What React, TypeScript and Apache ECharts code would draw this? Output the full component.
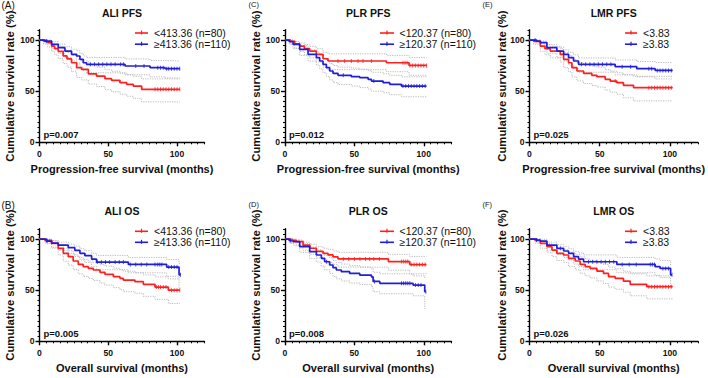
import React, { useEffect, useRef } from "react";
import * as echarts from "echarts";

const RED = "#ff1f1f";
const BLUE = "#1f1fd9";
const CI_GRAY = "#b2b2b2";
const FONT = "'Liberation Sans', Arial, Helvetica, sans-serif";

// Kaplan-Meier steps: [month, survival %, lower 95% CI, upper 95% CI]
const aliPfsLow = [
  [0, 100, 100, 100], [3, 98.8, 96, 100], [6, 97.5, 93, 99.5], [8.8, 94, 89, 97],
  [11, 91.5, 85.5, 95.5], [13.6, 89, 82, 94], [17.2, 84.5, 77, 90], [20, 81.5, 73.5, 87.5],
  [23.3, 77.8, 69, 85], [27, 73, 63.5, 81], [30.6, 71.3, 61, 79.5], [35.5, 67, 57, 75.5],
  [41.5, 64.8, 54.5, 73.5], [47.6, 62.2, 51.5, 71], [52.4, 60.6, 49.5, 69.5],
  [58.5, 58.3, 47, 67.5], [63.4, 56.7, 45, 66], [68.2, 55, 43, 64.5],
  [74.3, 51.8, 39.5, 62], [102, 51.8, 39.5, 62],
];
const aliPfsLowCens = [84, 86, 88, 90, 92, 94, 96, 98, 100, 102];
const aliPfsHigh = [
  [0, 100, 100, 100], [4, 99, 97, 100], [8.8, 95.8, 91.5, 98.5], [13.6, 92.5, 87, 96],
  [18.5, 89.2, 83, 93.5], [23.3, 86, 79.5, 91], [27, 84.4, 77.5, 89.5], [29.4, 81.1, 73.5, 87],
  [31.8, 77.8, 70, 84.5], [34.2, 76.2, 68, 83], [62.2, 74.6, 66, 81.5], [80.4, 73, 64, 80],
  [91.3, 72, 63, 79.5], [102, 72, 63, 79.5],
];
const aliPfsHighCens = [5, 37, 40, 43, 46, 49, 52, 55, 59, 61, 70, 76, 86, 88, 90, 92.5, 94, 96, 98, 100, 102];

const plrPfsLow = [
  [0, 100, 100, 100], [4, 98.8, 96, 100], [7, 96.3, 92, 98.5], [10.6, 94.1, 89, 97],
  [14, 91.5, 85.5, 95.5], [17.8, 89.2, 82.5, 93.8], [22.6, 86, 78.5, 91.5],
  [27.4, 81.7, 73.5, 88], [31, 79.5, 71, 86.5], [73.1, 77.8, 69, 85], [89.4, 75.2, 65.5, 83],
  [102, 75.2, 65.5, 83],
];
const plrPfsLowCens = [38.2, 43, 47.8, 52.6, 56.2, 62.3, 85, 86.5, 88, 90, 92, 94, 96, 98, 100, 102];
const plrPfsHigh = [
  [0, 100, 100, 100], [3, 98.5, 96, 100], [5.8, 95.8, 91.5, 98.5], [10.6, 90.9, 85, 94.5],
  [16.6, 86, 79.5, 90.5], [22.6, 82.7, 75.5, 88], [25, 79.5, 72, 85.5], [27.4, 76.2, 68, 82.5],
  [29.8, 73, 64.5, 80], [32.2, 69.7, 61, 77], [34.6, 67.4, 58.5, 75], [38.2, 65.5, 56.5, 73.5],
  [47.8, 64.2, 55, 72.5], [53.9, 63.2, 53.5, 71.5], [59.9, 61.6, 52, 70], [62.3, 59.9, 50, 68.5],
  [70.7, 58.3, 48.5, 67], [75.5, 56.7, 46.5, 65.5], [83.9, 55, 44.5, 64], [102, 55, 44.5, 64],
];
const plrPfsHighCens = [42, 64, 85, 87, 89, 91, 93, 95, 97, 99, 101];

const lmrPfsLow = [
  [0, 100, 100, 100], [3, 98.7, 96, 100], [7.7, 94.1, 89, 97], [11, 91.5, 85.5, 95.5],
  [14.8, 89.2, 82.5, 93.8], [21.9, 86, 78.5, 91.5], [24.3, 81.1, 73, 87.5], [27.8, 77.8, 69, 85],
  [30.2, 73, 64, 81], [33.8, 69.7, 60, 78], [38.5, 67.4, 57.5, 76], [44.4, 65.5, 55.5, 74.5],
  [48, 64.2, 54, 73.5], [53.9, 61.6, 51, 71], [57.5, 59.9, 49, 69.5], [62.2, 58.3, 47, 68],
  [66.9, 55.7, 43.5, 66], [74.1, 53.4, 40.5, 64.5], [102, 53.4, 40.5, 64.5],
];
const lmrPfsLowCens = [61, 85, 87, 89, 91, 93, 95, 97, 99, 101];
const lmrPfsHigh = [
  [0, 100, 100, 100], [5, 99, 97, 100], [7.7, 97.4, 94, 99], [12.4, 92.5, 87, 95.5],
  [19.5, 89.2, 83, 93], [24.3, 86, 79.5, 90.5], [27.8, 82.7, 75.5, 88], [31.4, 79.5, 72, 85.5],
  [34.9, 76.2, 68.5, 82.5], [61, 73.9, 66, 80.5], [76.4, 72, 64, 79], [89.5, 70.3, 62, 78],
  [102, 70.3, 62, 78],
];
const lmrPfsHighCens = [4, 37, 40, 43, 46, 49, 52, 55, 58, 66, 72, 85, 87, 91, 93, 95, 97, 99, 101];

const aliOsLow = [
  [0, 100, 100, 100], [4, 98.7, 96, 100], [8.8, 95.8, 91, 98], [13.6, 90.9, 84.5, 94.5],
  [17.3, 86, 78.5, 91], [20.9, 82.7, 74.5, 88.5], [24.5, 78.5, 70, 84.5], [28.2, 75.2, 66, 82],
  [31.8, 73, 63.5, 80], [35.5, 71.3, 61.5, 78.5], [39.1, 69.7, 59.5, 77], [44, 67.4, 57, 75],
  [47.6, 65.5, 55, 73.5], [53.7, 63.2, 52.5, 71.5], [58.5, 61.6, 50.5, 70], [61, 59.9, 48.5, 68.5],
  [69.4, 58.3, 47, 67], [75.5, 55.7, 44, 65], [84, 53, 41, 63], [93.7, 50, 37, 61],
  [102, 50, 37, 61],
];
const aliOsLowCens = [85, 86.5, 88, 90, 92, 96, 98, 100, 102];
const aliOsHigh = [
  [0, 100, 100, 100], [5, 98, 95.5, 99.5], [8.8, 96, 92, 98.5], [13.6, 94, 89, 97],
  [20.9, 91.5, 86, 95], [25.7, 89, 83, 93], [29.4, 86, 79.5, 90.5], [33, 83.7, 77, 88.5],
  [37.9, 80.4, 73, 86], [41.5, 77.5, 70, 84], [64.6, 75.2, 67, 82], [92.5, 72.6, 63.5, 80],
  [101.5, 65, 52, 76], [102.5, 65, 52, 76],
];
const aliOsHighCens = [5.5, 42, 45, 48, 51, 55, 58, 61, 66, 70, 74, 78, 84, 86, 87.5, 89, 94, 96, 98, 100, 102.5];

const plrOsLow = [
  [0, 100, 100, 100], [4, 98.8, 96, 100], [8, 97.5, 93.5, 99], [13, 94, 89, 97],
  [18, 91, 85, 95], [22.6, 88, 81.5, 92.5], [27.4, 86, 79, 91], [31, 84.5, 77, 90],
  [34.6, 82.5, 75, 88.5], [38.2, 80.5, 72.5, 87], [74.5, 78, 69.5, 85], [89.9, 75, 66, 83],
  [102, 75, 66, 83],
];
const plrOsLowCens = [5, 42, 46, 50, 54, 58, 61, 64, 68, 84, 85.5, 87, 88.5, 91, 93, 95, 97, 99, 101];
const plrOsHigh = [
  [0, 100, 100, 100], [3, 98.5, 96, 100], [5.8, 97.4, 94, 99], [10.6, 92.5, 87, 95.5],
  [17.8, 87.6, 81, 92], [22.6, 84.4, 77.5, 89.5], [26.2, 81.1, 73.5, 87], [28.6, 77.8, 70, 84],
  [32.2, 74.6, 66.5, 81.5], [34.6, 72, 63.5, 79], [37, 69.7, 61, 77], [40.6, 68.1, 59, 75.5],
  [46.6, 66.4, 57, 74], [53.9, 64.8, 55.5, 72.5], [62.3, 63, 53.5, 71], [63.5, 58.5, 48.5, 67.5],
  [68.3, 56.7, 46.5, 66], [92.3, 55, 44.5, 64], [100.7, 48.5, 32, 62], [101.5, 48.5, 32, 62],
];
const plrOsHighCens = [4, 30, 64.5, 84, 85.5, 87, 88.5, 90, 94, 96, 98, 101.5];

const lmrOsLow = [
  [0, 100, 100, 100], [4, 98.7, 96, 100], [7.7, 95.8, 91, 98], [12.4, 92.5, 87, 95.5],
  [16, 89.2, 83, 93], [19.5, 86, 79, 90.5], [24.3, 84.4, 77, 89.5], [27.8, 81.1, 73, 87],
  [32.6, 78.5, 70, 85], [36.1, 75.2, 66.5, 82.5], [39.7, 73, 64, 80.5], [43.2, 71.3, 62, 79],
  [48, 68.7, 59, 77], [52.7, 66.4, 56.5, 75], [56.3, 63.2, 53, 72.5], [61, 61.6, 51, 71],
  [66.9, 58.9, 48, 68.5], [71.7, 55.7, 44.5, 66], [83.5, 53.4, 41.5, 64], [102, 53.4, 41.5, 64],
];
const lmrOsLowCens = [85, 87, 89, 91, 93, 95, 97, 99, 101];
const lmrOsHigh = [
  [0, 100, 100, 100], [5, 99, 97, 100], [7.7, 98, 95.5, 99.5], [12.4, 94.1, 89, 97],
  [19.5, 90.9, 85, 94.5], [24.3, 88.3, 82, 92.5], [27.8, 86, 79.5, 90.5], [31.4, 82.7, 75.5, 88],
  [34.9, 80.4, 73, 86.5], [38.5, 77.8, 70, 84.5], [62.2, 75.2, 67, 82], [89.5, 73, 64.5, 80.5],
  [93, 71.3, 62.5, 79], [100.5, 65, 54, 74.5], [101.5, 65, 54, 74.5],
];
const lmrOsHighCens = [5, 22, 42, 45, 48, 51, 54, 57, 60, 66, 71, 76, 86, 87.5, 89, 95, 97, 99, 101.5];

// Panel order: top row A, C, E; bottom row B, D, F
const panelTags = ["(A)", "(C)", "(E)", "(B)", "(D)", "(F)"];
const panelTitles = ["ALI PFS", "PLR PFS", "LMR PFS", "ALI OS", "PLR OS", "LMR OS"];
const pValues = ["p=0.007", "p=0.012", "p=0.025", "p=0.005", "p=0.008", "p=0.026"];
const xTitles = [
  "Progression-free survival (months)",
  "Progression-free survival (months)",
  "Progression-free survival (months)",
  "Overall survival (months)",
  "Overall survival (months)",
  "Overall survival (months)",
];
const yTitle = "Cumulative survival rate (%)";
const lowLabels = ["<413.36 (n=80)", "<120.37 (n=80)", "<3.83", "<413.36 (n=80)", "<120.37 (n=80)", "<3.83"];
const highLabels = ["≥413.36 (n=110)", "≥120.37 (n=110)", "≥3.83", "≥413.36 (n=110)", "≥120.37 (n=110)", "≥3.83"];
const xTicks = [0, 50, 100];
const yTicks = [0, 50, 100];

const lowCurves = [aliPfsLow, plrPfsLow, lmrPfsLow, aliOsLow, plrOsLow, lmrOsLow];
const lowCensors = [aliPfsLowCens, plrPfsLowCens, lmrPfsLowCens, aliOsLowCens, plrOsLowCens, lmrOsLowCens];
const highCurves = [aliPfsHigh, plrPfsHigh, lmrPfsHigh, aliOsHigh, plrOsHigh, lmrOsHigh];
const highCensors = [aliPfsHighCens, plrPfsHighCens, lmrPfsHighCens, aliOsHighCens, plrOsHighCens, lmrOsHighCens];

// Layout of the 3 x 2 panels (pixels)
const COL_LEFT = [39.5, 285, 529.5];
const COL_WIDTH = [165, 166.5, 168.5];
const COL_YLABEL_X = [10, 256, 502];
const COL_TAG = [
  { x: 1.5, size: 10 },
  { x: 248.5, size: 7.5 },
  { x: 482.5, size: 7.5 },
];
const COL_LEGEND = [
  { x1: 135, x2: 148, tx: 154 },
  { x1: 380, x2: 394, tx: 399.5 },
  { x1: 625, x2: 637, tx: 643 },
];
const ROW_TOP = [29.8, 228.8];
const GRID_H = 112.5;

function survAt(curve: number[][], t: number): number {
  let v = curve[0][1];
  for (const p of curve) {
    if (p[0] <= t) v = p[1];
    else break;
  }
  return v;
}

function buildOption() {
  const grid: any[] = [];
  const xAxis: any[] = [];
  const yAxis: any[] = [];
  const series: any[] = [];
  const graphic: any[] = [];

  const tickLabel = {
    color: "#111",
    fontWeight: "bold",
    fontSize: 8.6,
    fontFamily: FONT,
  };

  for (let i = 0; i < 6; i++) {
    const row = i < 3 ? 0 : 1;
    const col = i % 3;
    const left = COL_LEFT[col];
    const width = COL_WIDTH[col];
    const top = ROW_TOP[row];
    const bottom = top + GRID_H;
    grid.push({ left, top, width, height: GRID_H, containLabel: false });

    // base axis: line + dense minor ticks
    xAxis.push({
      gridIndex: i, type: "value", position: "bottom", min: 0, max: 120, interval: 5,
      axisLine: { show: true, onZero: false, lineStyle: { color: "#000", width: 1.4 } },
      axisTick: { show: true, length: 2, lineStyle: { color: "#000", width: 1 } },
      axisLabel: { show: false }, splitLine: { show: false },
    });
    // overlay axis: major ticks + labels
    xAxis.push({
      gridIndex: i, type: "value", position: "bottom", min: 0, max: 120, interval: 50,
      axisLine: { show: false },
      axisTick: { show: true, length: 4, customValues: xTicks, lineStyle: { color: "#000", width: 1.4 } },
      axisLabel: { show: true, customValues: xTicks, margin: 7.5, ...tickLabel },
      splitLine: { show: false },
    });
    yAxis.push({
      gridIndex: i, type: "value", position: "left", min: 0, max: 110, interval: 5,
      axisLine: { show: true, onZero: false, lineStyle: { color: "#000", width: 1.4 } },
      axisTick: { show: true, length: 2, lineStyle: { color: "#000", width: 1 } },
      axisLabel: { show: false }, splitLine: { show: false },
    });
    yAxis.push({
      gridIndex: i, type: "value", position: "left", min: 0, max: 110, interval: 50,
      axisLine: { show: false },
      axisTick: { show: true, length: 4, customValues: yTicks, lineStyle: { color: "#000", width: 1.4 } },
      axisLabel: { show: true, customValues: yTicks, margin: 5, ...tickLabel },
      splitLine: { show: false },
    });

    const xi = i * 2;
    const groups = [
      { curve: lowCurves[i], cens: lowCensors[i], color: RED },
      { curve: highCurves[i], cens: highCensors[i], color: BLUE },
    ];

    // confidence bands (dotted)
    groups.forEach((g) => {
      [2, 3].forEach((k) => {
        series.push({
          type: "line", xAxisIndex: xi, yAxisIndex: xi, step: "end",
          data: g.curve.map((p) => [p[0], p[k]]),
          symbol: "none", silent: true, z: 2,
          lineStyle: { color: CI_GRAY, width: 0.9, type: [1.2, 1.2] },
        });
      });
    });
    // survival curves
    groups.forEach((g) => {
      series.push({
        type: "line", xAxisIndex: xi, yAxisIndex: xi, step: "end",
        data: g.curve.map((p) => [p[0], p[1]]),
        symbol: "none", silent: true, z: 4,
        lineStyle: { color: g.color, width: 1.7 },
      });
    });
    // censor ticks
    groups.forEach((g) => {
      series.push({
        type: "scatter", xAxisIndex: xi, yAxisIndex: xi,
        data: g.cens.map((t) => [t, survAt(g.curve, t)]),
        symbol: "rect", symbolSize: [1, 4], silent: true, z: 5,
        itemStyle: { color: g.color },
      });
    });

    const cx = left + width / 2;
    const tag = COL_TAG[col];
    graphic.push({
      type: "text", x: tag.x, y: row === 0 ? (col === 0 ? 5.5 : 4) : (col === 0 ? 205 : 204.5),
      style: {
        text: panelTags[i], font: `${tag.size}px ${FONT}`, fill: "#111",
        align: "left", verticalAlign: "middle", textAlign: "left", textVerticalAlign: "middle",
      },
    });
    graphic.push({
      type: "text", x: cx, y: row === 0 ? 12.7 : 211,
      style: {
        text: panelTitles[i], font: `bold 10.5px ${FONT}`, fill: "#111",
        align: "center", verticalAlign: "middle", textAlign: "center", textVerticalAlign: "middle",
      },
    });
    graphic.push({
      type: "text", x: cx, y: bottom + 27,
      style: {
        text: xTitles[i], font: `bold 11px ${FONT}`, fill: "#111",
        align: "center", verticalAlign: "middle", textAlign: "center", textVerticalAlign: "middle",
      },
    });
    graphic.push({
      type: "text", x: COL_YLABEL_X[col], y: top + GRID_H / 2, rotation: Math.PI / 2,
      style: {
        text: yTitle, font: `bold 11.3px ${FONT}`, fill: "#111",
        align: "center", verticalAlign: "middle", textAlign: "center", textVerticalAlign: "middle",
      },
    });
    graphic.push({
      type: "text", x: left + 4, y: bottom - 7.5,
      style: {
        text: pValues[i], font: `bold 9.5px ${FONT}`, fill: "#111",
        align: "left", verticalAlign: "middle", textAlign: "left", textVerticalAlign: "middle",
      },
    });

    // legend
    const lg = COL_LEGEND[col];
    const ly = [row === 0 ? 33 : 231.3, row === 0 ? 44.2 : 242.3];
    const labels = [lowLabels[i], highLabels[i]];
    [RED, BLUE].forEach((color, k) => {
      const mid = (lg.x1 + lg.x2) / 2;
      graphic.push({
        type: "line", shape: { x1: lg.x1, y1: ly[k], x2: lg.x2, y2: ly[k] },
        style: { stroke: color, lineWidth: 1.6 },
      });
      graphic.push({
        type: "line", shape: { x1: mid, y1: ly[k] - 2.5, x2: mid, y2: ly[k] + 1.5 },
        style: { stroke: color, lineWidth: 1.2 },
      });
      graphic.push({
        type: "text", x: lg.tx, y: ly[k],
        style: {
          text: labels[k], font: `10.5px ${FONT}`, fill: "#111",
          align: "left", verticalAlign: "middle", textAlign: "left", textVerticalAlign: "middle",
        },
      });
    });
  }

  return {
    animation: false,
    backgroundColor: "#ffffff",
    grid,
    xAxis,
    yAxis,
    series,
    graphic,
  };
}

export default function App() {
  const ref = useRef<HTMLDivElement>(null);
  useEffect(() => {
    if (!ref.current) return;
    const chart = echarts.init(ref.current, undefined, { renderer: "svg" });
    chart.setOption(buildOption() as any);
    return () => chart.dispose();
  }, []);
  return (
    <div
      ref={ref}
      style={{ position: "fixed", left: 0, top: 0, width: 708, height: 378, background: "#fff" }}
    />
  );
}
